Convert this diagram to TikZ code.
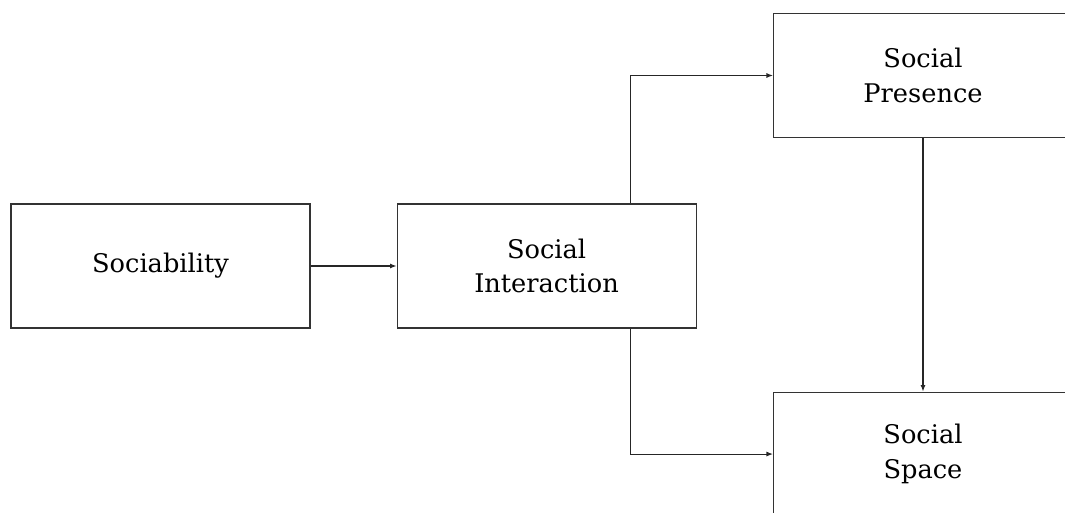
\documentclass[tikz,border=0pt]{standalone}
\usepackage{fontspec}
\setmainfont{DejaVu Serif}
\usetikzlibrary{positioning,arrows.meta}
\begin{document}
\begin{tikzpicture}
            \tikzstyle{box}=[draw=black!80,line width=0.6pt,minimum width=5.98cm,minimum height=2.48cm,align=center,font=\fontsize{14.6}{19.8}\selectfont]
            \tikzstyle{link}=[draw=black!85,line width=0.6pt,-{Latex[length=1.3mm,width=1mm]}]
            \useasboundingbox (0,0) rectangle (21.3,-10.26);
            \clip (0,0) rectangle (21.3,-10.26);
            \node[box] (sociability) at (3.21,-5.32) {Sociability};
            \node[box,right=1.72cm of sociability] (interaction) {Social\\Interaction};
            \node[box] (presence) at (18.46,-1.51) {Social\\Presence};
            \node[box,below=5.07cm of presence] (space) {Social\\Space};
            \draw[link] (sociability) -- (interaction);
            \draw[link] ([xshift=1.67cm]interaction.north) |- (presence.west);
            \draw[link] ([xshift=1.67cm]interaction.south) |- (space.west);
            \draw[link] (presence) -- (space);
        \end{tikzpicture}
\end{document}
